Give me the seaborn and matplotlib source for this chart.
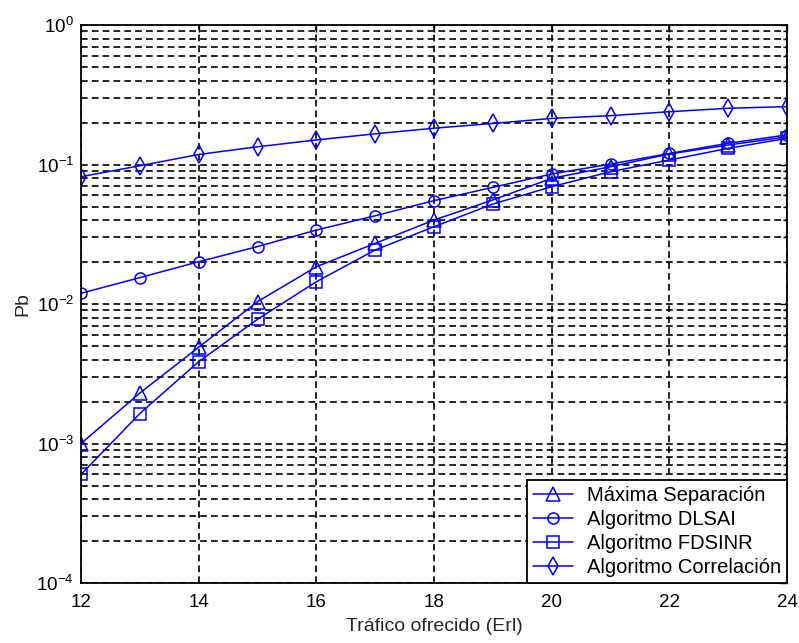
import numpy as np
import pandas as pd
import seaborn as sns
import matplotlib
matplotlib.use("Agg")
import matplotlib.pyplot as plt
from matplotlib.ticker import LogLocator, LogFormatterMathtext, NullFormatter

# Offered traffic (Erl)
traffic = [12, 13, 14, 15, 16, 17, 18, 19, 20, 21, 22, 23, 24]

# Blocking probability per algorithm
max_separacion = [0.00100, 0.00230, 0.00490, 0.0104, 0.0185, 0.0272, 0.0400,
                  0.0557, 0.0796, 0.0964, 0.1190, 0.1380, 0.1580]
dlsai = [0.01194, 0.01545, 0.0201, 0.0258, 0.0339, 0.0429, 0.0551,
         0.0686, 0.0855, 0.1008, 0.1200, 0.1420, 0.1630]
fdsinr = [0.00060, 0.00164, 0.00386, 0.00777, 0.01445, 0.0244, 0.0358,
          0.0521, 0.0693, 0.0888, 0.1077, 0.1306, 0.1540]
correlacion = [0.0818, 0.0980, 0.1180, 0.1340, 0.1500, 0.1660, 0.1820,
               0.1970, 0.2140, 0.2240, 0.2390, 0.2530, 0.2600]

series_names = ["Máxima Separación", "Algoritmo DLSAI",
                "Algoritmo FDSINR", "Algoritmo Correlación"]
series_values = [max_separacion, dlsai, fdsinr, correlacion]
series_markers = ["^", "o", "s", "d"]
series_sizes = [10, 8, 8.5, 9]

sns.set_style("white")
plt.rcParams["font.family"] = ["Liberation Sans", "DejaVu Sans"]
plt.rcParams["mathtext.fontset"] = "custom"
plt.rcParams["mathtext.rm"] = "Liberation Sans"
plt.rcParams["mathtext.it"] = "Liberation Sans:italic"

fig = plt.figure(figsize=(7.99, 6.43), dpi=100)
ax = fig.add_axes([0.1014, 0.0933, 0.8836, 0.8678])

blue = "#0000ff"
for name, vals, mk, ms in zip(series_names, series_values, series_markers, series_sizes):
    df = pd.DataFrame({"x": traffic, "y": vals})
    sns.lineplot(data=df, x="x", y="y", ax=ax, color=blue, lw=1.1,
                 marker=mk, markersize=ms, markerfacecolor="none",
                 markeredgecolor=blue, markeredgewidth=1.1, label=name)

ax.set_yscale("log")
ax.set_xlim(12, 24)
ax.set_ylim(1e-4, 1)
ax.set_xticks([12, 14, 16, 18, 20, 22, 24])
ax.yaxis.set_major_locator(LogLocator(base=10, numticks=10))
ax.yaxis.set_major_formatter(LogFormatterMathtext())
ax.yaxis.set_minor_locator(LogLocator(base=10, subs=np.arange(2, 10), numticks=20))
ax.yaxis.set_minor_formatter(NullFormatter())

grid_kw = dict(color="black", linestyle=(0, (4, 2.5)), linewidth=1.2)
ax.grid(True, which="major", axis="both", **grid_kw)
ax.grid(True, which="minor", axis="y", **grid_kw)
ax.set_axisbelow(True)

ax.tick_params(which="both", direction="in", top=True, right=True,
               labelsize=13.5, colors="black")
ax.tick_params(which="major", length=5, width=1)
ax.tick_params(which="minor", length=3, width=1)
ax.tick_params(axis="x", pad=8)
ax.tick_params(axis="y", pad=5)
for sp in ax.spines.values():
    sp.set_color("black")
    sp.set_linewidth(1.3)

ax.set_xlabel("Tráfico ofrecido (Erl)", fontsize=14, labelpad=5)
ax.set_ylabel("Pb", fontsize=14, labelpad=4)

handles, labels = ax.get_legend_handles_labels()
for h in handles:
    h.set_markerfacecolor("none")
leg = ax.legend(handles, labels, loc="lower right", fontsize=14.5,
                frameon=True, fancybox=False, framealpha=1,
                edgecolor="black", borderaxespad=0, handlelength=1.95,
                borderpad=0.3, labelspacing=0.25, handletextpad=0.7)
leg.get_frame().set_linewidth(1.3)
for t in leg.get_texts():
    t.set_color("black")

fig.savefig("out.png", dpi=100, facecolor="white")
